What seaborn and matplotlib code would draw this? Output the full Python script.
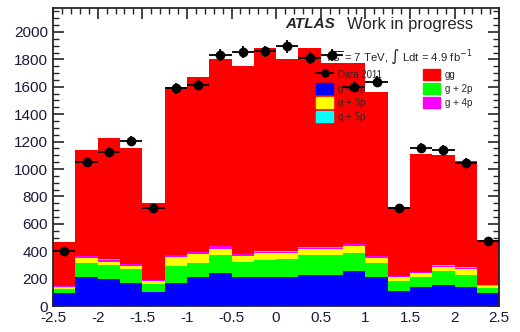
import numpy as np
import pandas as pd
import seaborn as sns
import matplotlib.pyplot as plt
from matplotlib.patches import Patch
from matplotlib.lines import Line2D
from matplotlib.ticker import MultipleLocator

sns.set_style("ticks")
plt.rcParams['font.family'] = ['Liberation Sans', 'DejaVu Sans']

# binning in eta
bin_edges = [-2.5, -2.25, -2.0, -1.75, -1.5, -1.25, -1.0, -0.75, -0.5, -0.25, 0.0,
             0.25, 0.5, 0.75, 1.0, 1.25, 1.5, 1.75, 2.0, 2.25, 2.5]
eta = [-2.375, -2.125, -1.875, -1.625, -1.375, -1.125, -0.875, -0.625, -0.375, -0.125,
       0.125, 0.375, 0.625, 0.875, 1.125, 1.375, 1.625, 1.875, 2.125, 2.375]

# stacked MC components (events per bin)
g1p = [93, 210, 197, 170, 100, 170, 210, 239, 210, 210, 210, 226, 226, 256, 210, 112, 141, 153, 139, 93]
g2p = [31, 102, 103, 100, 58, 124, 107, 133, 114, 126, 133, 146, 146, 129, 102, 73, 69, 103, 87, 41]
g3p = [17, 41, 24, 20, 25, 66, 63, 44, 43, 49, 42, 42, 42, 53, 41, 27, 29, 27, 46, 12]
g4p = [4, 10, 14, 14, 5, 12, 12, 22, 13, 12, 8, 12, 12, 12, 12, 4, 9, 12, 6, 4]
g5p = [1, 2, 2, 2, 1, 2, 2, 3, 2, 3, 7, 3, 3, 3, 2, 1, 2, 2, 4, 1]
stack_total = [470, 1140, 1230, 1156, 750, 1597, 1670, 1802, 1748, 1882,
               1800, 1882, 1773, 1773, 1565, 725, 1110, 1100, 1060, 482]

# data 2011
data = [404, 1054, 1127, 1205, 718, 1590, 1614, 1833, 1853, 1858,
        1894, 1809, 1833, 1602, 1638, 713, 1154, 1140, 1047, 475]
data_err = [20, 32, 34, 35, 27, 40, 40, 43, 43, 43, 44, 43, 43, 40, 40, 27, 34, 34, 32, 22]

gg = [t - a - b - c - d - e for t, a, b, c, d, e in zip(stack_total, g1p, g2p, g3p, g4p, g5p)]

comps = {"gg": gg, "g + 5p": g5p, "g + 4p": g4p, "g + 3p": g3p, "g + 2p": g2p, "g + 1p": g1p}
colors = {"gg": "#ff0000", "g + 5p": "#00ffff", "g + 4p": "#ff00ff",
          "g + 3p": "#ffff00", "g + 2p": "#00ff00", "g + 1p": "#0000ff"}

rows = []
for name, vals in comps.items():
    for x, v in zip(eta, vals):
        rows.append({"eta": x, "events": v, "process": name})
df = pd.DataFrame(rows)

fig = plt.figure(figsize=(5.2, 3.32), dpi=100)
ax = fig.add_axes([0.102, 0.078, 0.858, 0.898])

sns.histplot(data=df, x="eta", weights="events", hue="process",
             hue_order=list(comps.keys()), palette=colors, multiple="stack",
             bins=bin_edges, alpha=1, linewidth=0, legend=False, ax=ax)

ax.errorbar(eta, data, xerr=0.125, yerr=data_err, fmt="o", color="black",
            ms=6, elinewidth=1.3, capsize=0, zorder=5)

ax.set_xlim(-2.5, 2.5)
ax.set_ylim(0, 2175)
ax.set_xlabel("")
ax.set_ylabel("")
ax.xaxis.set_major_locator(MultipleLocator(0.5))
ax.xaxis.set_minor_locator(MultipleLocator(0.1))
ax.yaxis.set_major_locator(MultipleLocator(200))
ax.yaxis.set_minor_locator(MultipleLocator(50))
ax.tick_params(which="both", direction="in", top=True, right=True, labelsize=11,
               labelcolor="#1a1a3a")
ax.tick_params(which="major", length=8, width=1.2)
ax.tick_params(which="minor", length=4, width=1)
ax.xaxis.set_major_formatter(plt.FuncFormatter(lambda v, p: f"{v:g}"))
for s in ax.spines.values():
    s.set_linewidth(1.3)

ax.text(0.52, 0.945, "ATLAS", transform=ax.transAxes, fontsize=11,
        fontweight="bold", fontstyle="italic", va="center")
ax.text(0.659, 0.945, "Work in progress", transform=ax.transAxes, fontsize=12,
        va="center")
ax.text(0.61, 0.837, r"$\sqrt{s}$ = 7 TeV, $\int$ Ldt = 4.9 fb$^{-1}$",
        transform=ax.transAxes, fontsize=8.2, va="center")

handles = [Line2D([0], [0], marker="o", color="black", ms=5, lw=1.3),
           Patch(color=colors["g + 1p"]), Patch(color=colors["g + 3p"]),
           Patch(color=colors["g + 5p"]), Patch(color=colors["gg"]),
           Patch(color=colors["g + 2p"]), Patch(color=colors["g + 4p"])]
labels = ["Data 2011", "g + 1p", "g + 3p", "g + 5p", "gg", "g + 2p", "g + 4p"]
ax.legend(handles, labels, ncol=2, frameon=False, fontsize=7, loc="upper left",
          bbox_to_anchor=(0.59, 0.795), handlelength=1.7, handleheight=1.3,
          labelspacing=0.35, columnspacing=4.3, handletextpad=0.5,
          borderpad=0, borderaxespad=0)

fig.savefig("out.png", dpi=100)
